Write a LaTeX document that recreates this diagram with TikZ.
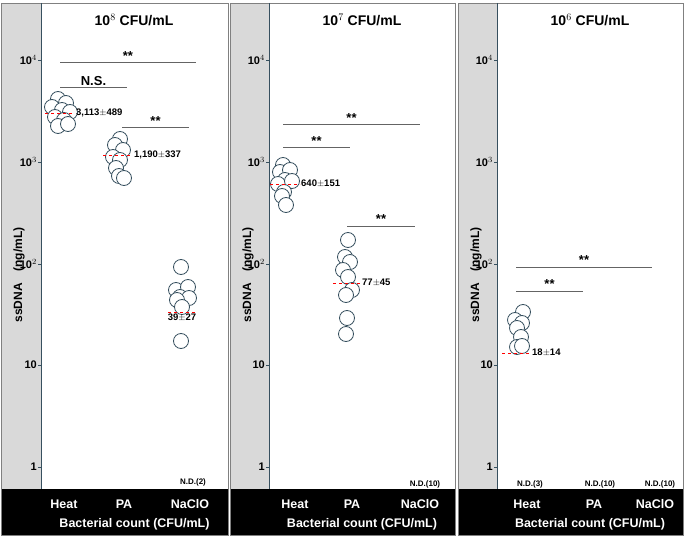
\documentclass[tikz,border=0pt]{standalone}
\usepackage{fontspec}
\setmainfont{Liberation Sans}
\usetikzlibrary{positioning,calc}
\definecolor{panelgray}{RGB}{217,217,217}
\definecolor{dotline}{RGB}{55,80,95}
\definecolor{barline}{RGB}{100,100,100}
\tikzset{
  dot/.style={circle, draw=dotline, fill=white, line width=0.8pt, minimum size=15pt, inner sep=0pt},
  sigbar/.style={draw=barline, line width=1pt},
  meanline/.style={draw=red, dashed, line width=0.8pt},
  tick/.style={font=\bfseries\fontsize{11}{12}\selectfont, anchor=east, inner sep=1pt},
  val/.style={font=\bfseries\fontsize{9.5}{10}\selectfont, inner sep=1pt},
  star/.style={font=\bfseries\fontsize{13}{13}\selectfont, inner sep=1pt},
  nd/.style={font=\bfseries\fontsize{8}{9}\selectfont, inner sep=0pt},
  grp/.style={font=\bfseries\fontsize{12.5}{13}\selectfont, text=white, inner sep=0pt},
  title/.style={font=\bfseries\fontsize{14}{15}\selectfont, inner sep=0pt}
}
\begin{document}
\begin{tikzpicture}[x=1pt, y=-1pt]
    \useasboundingbox (0,0) rectangle (685,540);

    % Panels
    \foreach \px/\gx/\ex/\nm in {1/41/228/a, 230/269/455/b, 458/497/683/c} {
      \fill[panelgray] (\px,3) rectangle (\gx,489);
      \fill[black] (\px,489) rectangle (\ex,535);
      \draw[gray, line width=0.8pt] (\px,3) rectangle (\ex,535);
      \draw[dotline, line width=0.6pt] (\gx,3) -- (\gx,489);
      \foreach \ty/\lb in {60/{10$^4$}, 162/{10$^3$}, 264/{10$^2$}, 365/{10}, 467/{1}} {
        \draw[dotline] (\gx-3,\ty) -- (\gx,\ty);
        \node[tick] at (\gx-3,\ty) {\lb};
      }
      \node[rotate=90, font=\bfseries\fontsize{12}{13}\selectfont] (ylab-\nm) at (\px+18,275) {ssDNA\quad(ng/mL)};
      \node[font=\bfseries\fontsize{12.5}{13}\selectfont, text=white] (xlab-\nm) at ({(\gx+\ex)/2},524) {Bacterial count (CFU/mL)};
    }

    % Titles and group names
    \node[title] (t-a) at (134,20) {10$^8$ CFU/mL};
    \node[title] (t-b) at (362,20) {10$^7$ CFU/mL};
    \node[title] (t-c) at (590,20) {10$^6$ CFU/mL};
    \foreach \hx/\pax/\nx/\nm in {64/124/190/a, 295/352/420/b, 527/594/655/c} {
      \node[grp] (heat-\nm) at (\hx,504) {Heat};
      \node[grp] (pa-\nm) at (\pax,504) {PA};
      \node[grp] (naclo-\nm) at (\nx,504) {NaClO};
    }

    % Data points
    \foreach \x/\y [count=\i] in {58/99,66/103,52/107,62/110,70/112,55/117,64/120,58/126,68/124,
        120/139,115/145,123/150,113/157,120/160,116/168,119/176,124/178,
        181/267,176/290,188/287,180/297,189/298,177/300,182/307,181/341,
        283/165,280/172,290/170,285/180,278/184,292/181,284/192,282/196,286/205,
        348/240,345/257,350/262,343/270,348/277,352/290,346/295,347/318,346/334,
        523/312,515/320,522/323,517/328,521/337,517/347,522/346}
      \node[dot] (p\i) at (\x,\y) {};

    % Means
    \coordinate (m1a) at (45,113);  \coordinate (m1b) at (75,113);
    \draw[meanline] (m1a) -- (m1b);
    \node[val, right=0pt of m1b] (v1) {3,113$\pm$489};
    \coordinate (m2a) at (103,155); \coordinate (m2b) at (133,155);
    \draw[meanline] (m2a) -- (m2b);
    \node[val, right=0pt of m2b] (v2) {1,190$\pm$337};
    \coordinate (m3a) at (168,312); \coordinate (m3b) at (196,312);
    \draw[meanline] (m3a) -- (m3b);
    \node[val, below=1pt of $(m3a)!0.5!(m3b)$] (v3) {39$\pm$27};
    \coordinate (m4a) at (270,184); \coordinate (m4b) at (300,184);
    \draw[meanline] (m4a) -- (m4b);
    \node[val, right=0pt of m4b] (v4) {640$\pm$151};
    \coordinate (m5a) at (333,283); \coordinate (m5b) at (361,283);
    \draw[meanline] (m5a) -- (m5b);
    \node[val, right=0pt of m5b] (v5) {77$\pm$45};
    \coordinate (m6a) at (502,353); \coordinate (m6b) at (531,353);
    \draw[meanline] (m6a) -- (m6b);
    \node[val, right=0pt of m6b] (v6) {18$\pm$14};

    % Significance bars
    \foreach \xa/\xb/\y/\lb [count=\i] in {60/196/63/{**}, 60/127/88/{N.S.}, 122/189/128/{**},
        283/420/125/{**}, 283/350/148/{**}, 347/415/226/{**},
        516/652/267/{**}, 516/583/291/{**}} {
      \coordinate (s\i a) at (\xa,\y);
      \coordinate (s\i b) at (\xb,\y);
      \draw[sigbar] (s\i a) -- (s\i b);
      \node[star, above=1pt of $(s\i a)!0.5!(s\i b)$] (sl\i) {\lb};
    }

    % Not detected
    \node[nd] (nd1) at (193,482) {N.D.(2)};
    \node[nd] (nd2) at (425,484) {N.D.(10)};
    \node[nd] (nd3) at (530,484) {N.D.(3)};
    \node[nd] (nd4) at (600,484) {N.D.(10)};
    \node[nd] (nd5) at (660,484) {N.D.(10)};

  \end{tikzpicture}
\end{document}
